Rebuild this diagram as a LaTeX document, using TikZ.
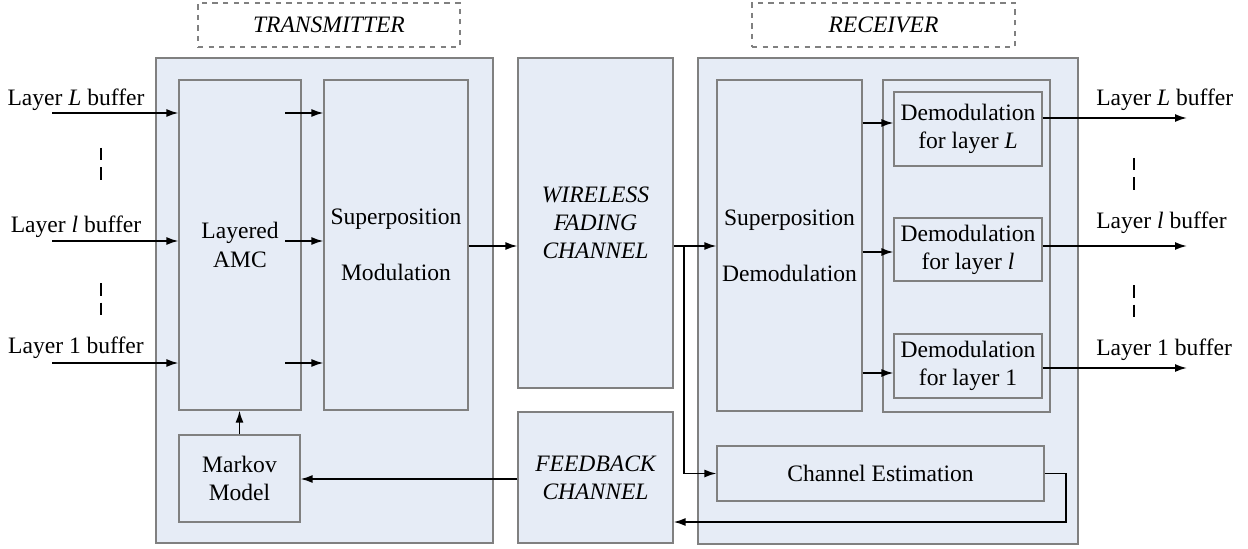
\documentclass[tikz,border=0pt]{standalone}
\usepackage{fontspec}
\setmainfont{LiberationSerif}[Extension=.ttf,UprightFont=*-Regular,ItalicFont=*-Italic,BoldFont=*-Bold,BoldItalicFont=*-BoldItalic]
\usetikzlibrary{arrows.meta}
\definecolor{boxfill}{RGB}{230,236,246}
\definecolor{boxline}{RGB}{128,128,128}

\begin{document}
\begin{tikzpicture}[>={Latex[length=2.4mm,width=1.6mm]}]
    \tikzstyle{block} = [draw=boxline,fill=boxfill,line width=0.6pt,align=center,inner sep=0pt,font=\fontsize{13.4}{16}\selectfont]
    \tikzstyle{hdr} = [draw=boxline,dashed,line width=0.6pt,fill=white,inner sep=0pt,font=\fontsize{13.4}{16}\selectfont\itshape]
    \tikzstyle{lbl} = [inner sep=0pt,font=\fontsize{13.4}{16}\selectfont]
    \tikzstyle{link} = [->,line width=1pt]
    \tikzstyle{dots} = [line width=0.8pt,dash pattern=on 0.25cm off 0.14cm]

    \useasboundingbox (0,0) rectangle (24.96,10.96);

    % headers
    \node[hdr,minimum width=5.24cm,minimum height=0.88cm] (txname) at (6.58,10.46) {TRANSMITTER};
    \node[hdr,minimum width=5.26cm,minimum height=0.88cm] (rxname) at (17.67,10.46) {RECEIVER};

    % transmitter
    \node[block,minimum width=6.74cm,minimum height=9.70cm] (tx) at (6.49,4.95) {};
    \node[block,minimum width=2.44cm,minimum height=6.60cm] (amc) at (4.80,6.06) {Layered\\AMC};
    \node[block,minimum width=2.88cm,minimum height=6.60cm] (supmod) at (7.92,6.06) {Superposition\\[16pt]Modulation};
    \node[block,minimum width=2.42cm,minimum height=1.74cm] (markov) at (4.79,1.39) {Markov\\Model};

    % channels
    \node[block,minimum width=3.10cm,minimum height=6.60cm] (wireless) at (11.91,6.50) {\itshape WIRELESS\\\itshape FADING\\\itshape CHANNEL};
    \node[block,minimum width=3.10cm,minimum height=2.62cm] (feedback) at (11.91,1.41) {\itshape FEEDBACK\\\itshape CHANNEL};

    % receiver
    \node[block,minimum width=7.60cm,minimum height=9.72cm] (rx) at (17.76,4.94) {};
    \node[block,minimum width=2.90cm,minimum height=6.62cm] (supdemod) at (15.79,6.05) {Superposition\\[16pt]Demodulation};
    \node[block,minimum width=3.34cm,minimum height=6.64cm] (group) at (19.33,6.04) {};
    \node[block,minimum width=2.96cm,minimum height=1.48cm] (demL) at (19.36,8.38) {Demodulation\\for layer \textit{L}};
    \node[block,minimum width=2.96cm,minimum height=1.26cm] (deml) at (19.36,5.97) {Demodulation\\for layer \textit{l}};
    \node[block,minimum width=2.96cm,minimum height=1.28cm] (dem1) at (19.36,3.64) {Demodulation\\for layer 1};
    \node[block,minimum width=6.54cm,minimum height=1.10cm] (chest) at (17.61,1.49) {Channel Estimation};

    % layer buffers
    \node[lbl] (inLtxt) at (1.52,8.96) {Layer \textit{L} buffer};
    \node[lbl] (inltxt) at (1.52,6.42) {Layer \textit{l} buffer};
    \node[lbl] (in1txt) at (1.52,4.00) {Layer 1 buffer};
    \node[lbl,anchor=west] (outLtxt) at (21.92,8.96) {Layer \textit{L} buffer};
    \node[lbl,anchor=west] (outltxt) at (21.92,6.50) {Layer \textit{l} buffer};
    \node[lbl,anchor=west] (out1txt) at (21.92,3.96) {Layer 1 buffer};

    \coordinate (inL) at (1.04,8.70);
    \coordinate (inl) at (1.04,6.14);
    \coordinate (in1) at (1.04,3.70);
    \coordinate (outL) at (23.74,8.60);
    \coordinate (outl) at (23.74,6.04);
    \coordinate (out1) at (23.74,3.60);

    \draw[link] (inL) -- (inL -| amc.west);
    \draw[link] (inl) -- (inl -| amc.west);
    \draw[link] (in1) -- (in1 -| amc.west);

    \draw[link] (5.70,8.70) -- (supmod.west |- inL);
    \draw[link] (5.70,6.14) -- (supmod.west |- inl);
    \draw[link] (5.70,3.70) -- (supmod.west |- in1);

    \draw[dots] (2.02,8.00) -- (2.02,7.36);
    \draw[dots] (2.02,5.30) -- (2.02,4.66);
    \draw[dots] (22.68,7.80) -- (22.68,7.16);
    \draw[dots] (22.68,5.26) -- (22.68,4.62);

    \draw[link] (supmod.east |- 0,6.04) -- (wireless.west |- 0,6.04);
    \draw[link] (wireless.east |- 0,6.04) -- (supdemod.west |- 0,6.04);
    \draw[link] (13.68,6.04) |- (chest.west);

    \draw[link] (supdemod.east |- 0,8.50) -- (demL.west |- 0,8.50);
    \draw[link] (supdemod.east |- 0,5.92) -- (deml.west |- 0,5.92);
    \draw[link] (supdemod.east |- 0,3.50) -- (dem1.west |- 0,3.50);

    \draw[link] (outL -| demL.east) -- (outL);
    \draw[link] (outl -| deml.east) -- (outl);
    \draw[link] (out1 -| dem1.east) -- (out1);

    \draw[link] (chest.east) -| (21.32,0.52) -- (feedback.east |- 0,0.52);
    \draw[link] (feedback.west |- 0,1.38) -- (markov.east |- 0,1.38);
    \draw[link] (markov.north) -- (markov.north |- amc.south);

\end{tikzpicture}
\end{document}
